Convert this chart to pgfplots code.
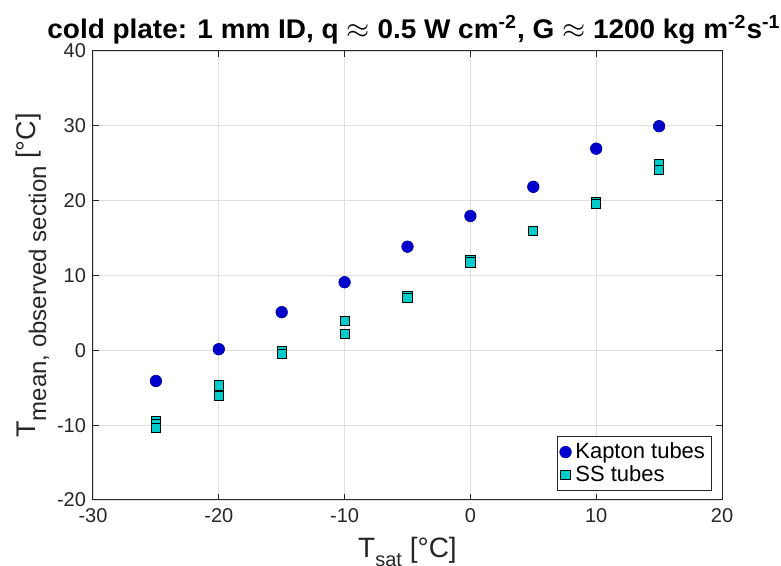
\documentclass[border=0pt]{standalone}
\usepackage{pgfplots}
\pgfplotsset{compat=1.18}
\usepackage{fontspec}
\setmainfont{Liberation Sans}
\definecolor{axgray}{HTML}{262626}
\definecolor{gridgray}{HTML}{DFDFDF}
\definecolor{kblue}{HTML}{0000CC}
\definecolor{scyan}{HTML}{00CCCC}
\begin{document}
\begin{tikzpicture}
\begin{axis}[
  name=ax,
  at={(0,0)}, anchor=south west,
  scale only axis,
  width=314.5pt, height=224.5pt,
  xmin=-30, xmax=20, ymin=-20, ymax=40,
  xtick={-30,-20,...,20}, ytick={-20,-10,...,40},
  grid=major,
  major grid style={gridgray, line width=0.4pt},
  axis line style={axgray, line width=0.5pt},
  tick style={axgray, line width=0.5pt},
  tick align=inside,
  major tick length=3pt,
  xtick pos=both, ytick pos=both,
  /pgf/number format/assume math mode=true,
  ticklabel style={font=\fontsize{10}{12}\selectfont, text=axgray},
  xticklabel style={yshift=-0.5pt},
  every axis x label/.style={at={(axis description cs:0.5,-0.127)}, anchor=base, font=\fontsize{14}{15}\selectfont, text=axgray},
  every axis y label/.style={at={(axis description cs:-0.0922,0.5)}, rotate=90, anchor=base, font=\fontsize{13.5}{15}\selectfont, text=axgray},
  xlabel={T\raisebox{-4.5pt}{\fontsize{10}{10}\selectfont sat} [°C]},
  ylabel={T\raisebox{-5.5pt}{\fontsize{12}{12}\selectfont mean, observed section} [°C]},
  legend style={at={(0.9833,0.02)}, anchor=south east, draw=axgray, line width=0.5pt,
    font=\fontsize{11}{11.5}\selectfont, inner xsep=1pt, inner ysep=1pt, row sep=-2pt,
    /tikz/every even column/.append style={column sep=0pt}},
  legend cell align=left,
  legend image code/.code={\path[#1] plot coordinates {(0.12cm,0cm)};},
]
\addplot[only marks, mark=*, mark size=2.9pt, mark options={fill=kblue, draw=kblue!80!black, line width=0.3pt}]
coordinates {(-25,-4.1) (-20,0.15) (-15,5.1) (-10,9.1) (-5,13.85) (0,17.95) (5,21.85) (10,26.95) (15,29.95)};
\addlegendentry{Kapton tubes}
\addplot[only marks, mark=square*, mark size=2.3pt, mark options={fill=scyan, draw=black, line width=0.5pt}]
coordinates {(-25,-9.4) (-25,-9.9) (-25,-10.4) (-20,-4.7) (-20,-6.1) (-15,-0.15) (-15,-0.45) (-10,3.9) (-10,2.2) (-5,7.3) (-5,6.95) (0,12.05) (0,11.75) (5,15.95) (10,19.75) (10,19.6) (15,24.95) (15,24.1)};
\addlegendentry{SS tubes}
\end{axis}
\node[anchor=base west, font=\fontsize{13.5}{15}\selectfont\bfseries, inner sep=0pt] at ([shift={(-23pt,230.5pt)}]ax.south west)
  {\scalebox{1.035}[1]{cold plate: 1 mm ID, q $\approx$ 0.5 W cm\textsuperscript{-2}, G $\approx$ 1200 kg m\textsuperscript{-2}s\textsuperscript{-1}}};
\pgfresetboundingbox
\path[use as bounding box] ([shift={(-46.5pt,-33pt)}]ax.south west) rectangle ([shift={(344pt,250pt)}]ax.south west);
\end{tikzpicture}
\end{document}
